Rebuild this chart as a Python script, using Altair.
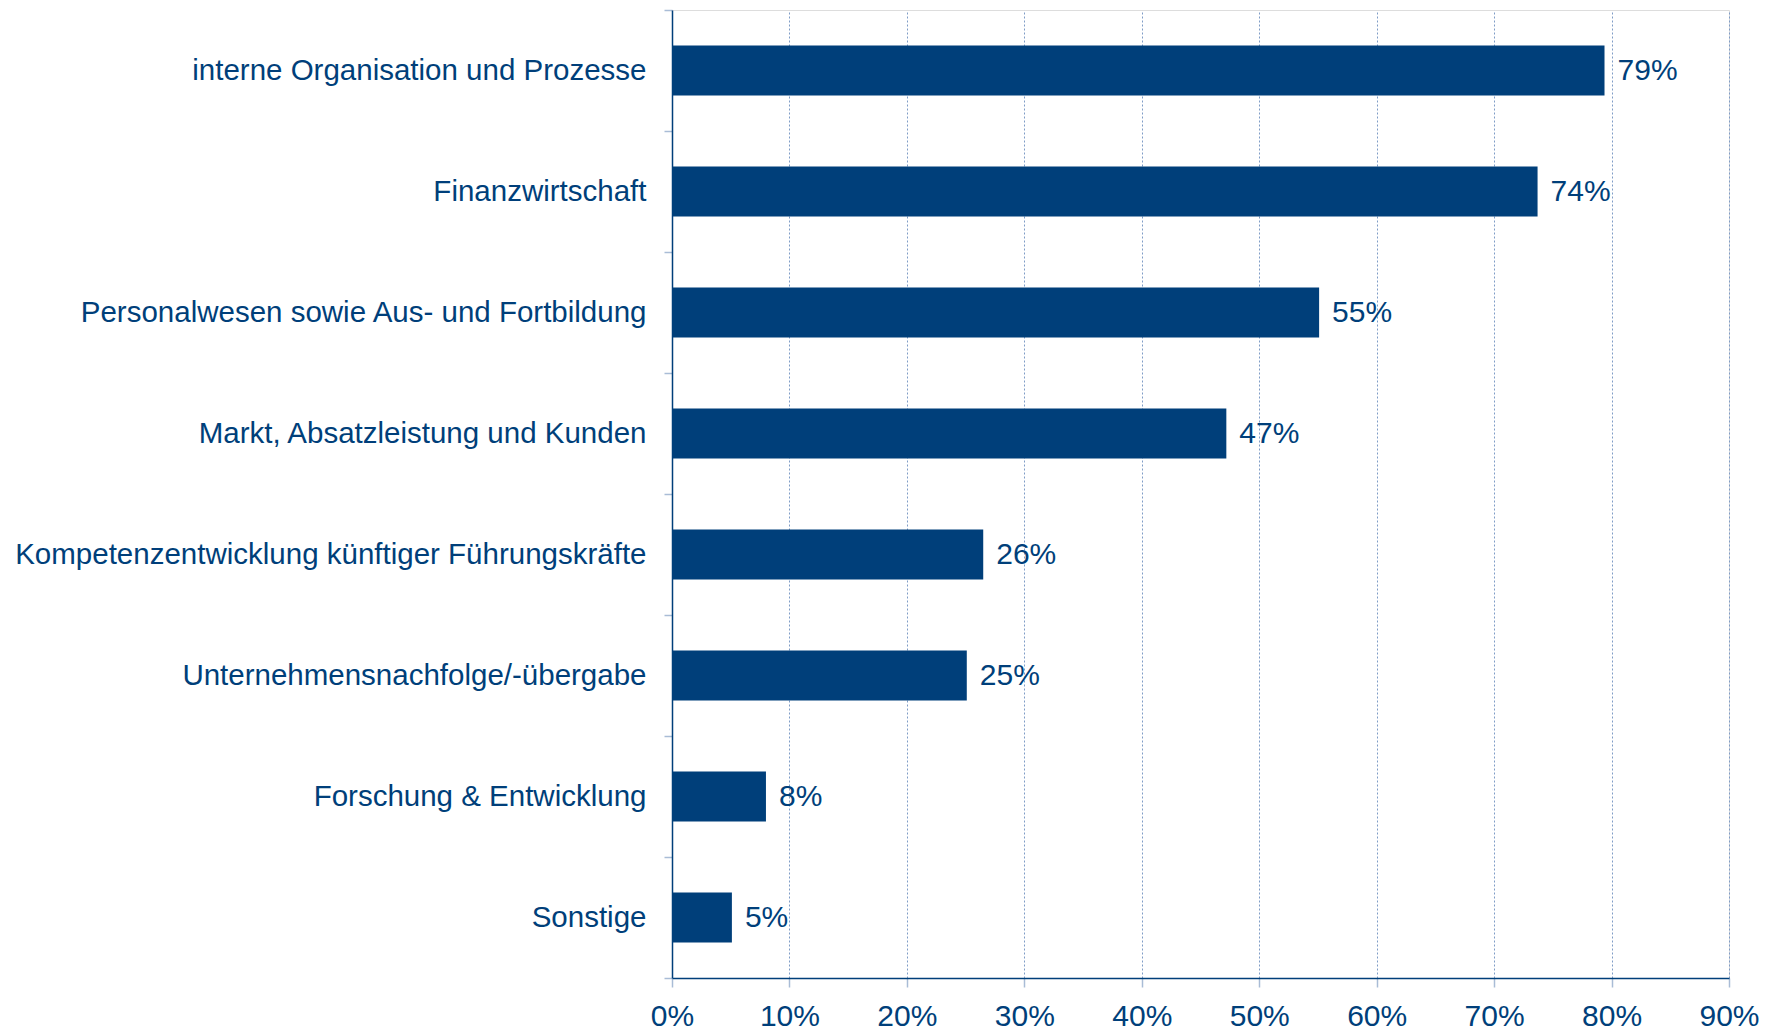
import altair as alt
import pandas as pd

categories = [
    "interne Organisation und Prozesse",
    "Finanzwirtschaft",
    "Personalwesen sowie Aus- und Fortbildung",
    "Markt, Absatzleistung und Kunden",
    "Kompetenzentwicklung künftiger Führungskräfte",
    "Unternehmensnachfolge/-übergabe",
    "Forschung & Entwicklung",
    "Sonstige",
]
values = [79.4, 73.7, 55.1, 47.2, 26.5, 25.1, 8.0, 5.1]
value_labels = ["79%", "74%", "55%", "47%", "26%", "25%", "8%", "5%"]
x_ticks = [0, 10, 20, 30, 40, 50, 60, 70, 80, 90]

df = pd.DataFrame({"cat": categories, "val": values, "lab": value_labels})

BLUE = "#003F7A"
LIGHT = "#A9BCD6"
GRID = "#7F9CC6"
FONT = "Liberation Sans"

x_enc = alt.X(
    "val:Q",
    scale=alt.Scale(domain=[0, 90], nice=False, zero=True),
    axis=alt.Axis(
        values=x_ticks,
        labelExpr="datum.value + '%'",
        title=None,
        grid=True,
        gridColor=GRID,
        gridDash=[2, 2],
        gridWidth=1,
        domainColor=BLUE,
        domainWidth=1.5,
        tickColor=LIGHT,
        tickSize=9,
        tickWidth=1.5,
        labelFont=FONT,
        labelFontSize=30,
        labelColor=BLUE,
        labelPadding=14,
        labelFlush=False,
        labelOverlap=False,
    ),
)

y_enc = alt.Y(
    "cat:N",
    sort=categories,
    scale=alt.Scale(paddingInner=0, paddingOuter=0),
    axis=alt.Axis(
        title=None,
        tickBand="extent",
        grid=False,
        domainColor=BLUE,
        domainWidth=1.5,
        tickColor=LIGHT,
        tickSize=8,
        tickWidth=1.5,
        labelFont=FONT,
        labelFontSize=29.5,
        labelColor=BLUE,
        labelPadding=18,
        labelLimit=1000,
    ),
)

bars = alt.Chart(df).mark_bar(
    color=BLUE, height=alt.RelativeBandSize(0.415)
).encode(x=x_enc, y=y_enc)

texts = alt.Chart(df).mark_text(
    align="left", baseline="middle", dx=13, font=FONT, fontSize=30, color=BLUE
).encode(x="val:Q", y=alt.Y("cat:N", sort=categories), text="lab:N")

chart = (
    alt.layer(bars, texts)
    .properties(
        width=1057,
        height=968,
        autosize=alt.AutoSizeParams(type="none"),
        padding={"left": 664, "top": 2, "right": 40, "bottom": 50},
    )
    .configure_view(strokeWidth=0)
    .configure(background="white")
)

chart.save("out.html", embed_options={"renderer": "svg", "actions": False})
